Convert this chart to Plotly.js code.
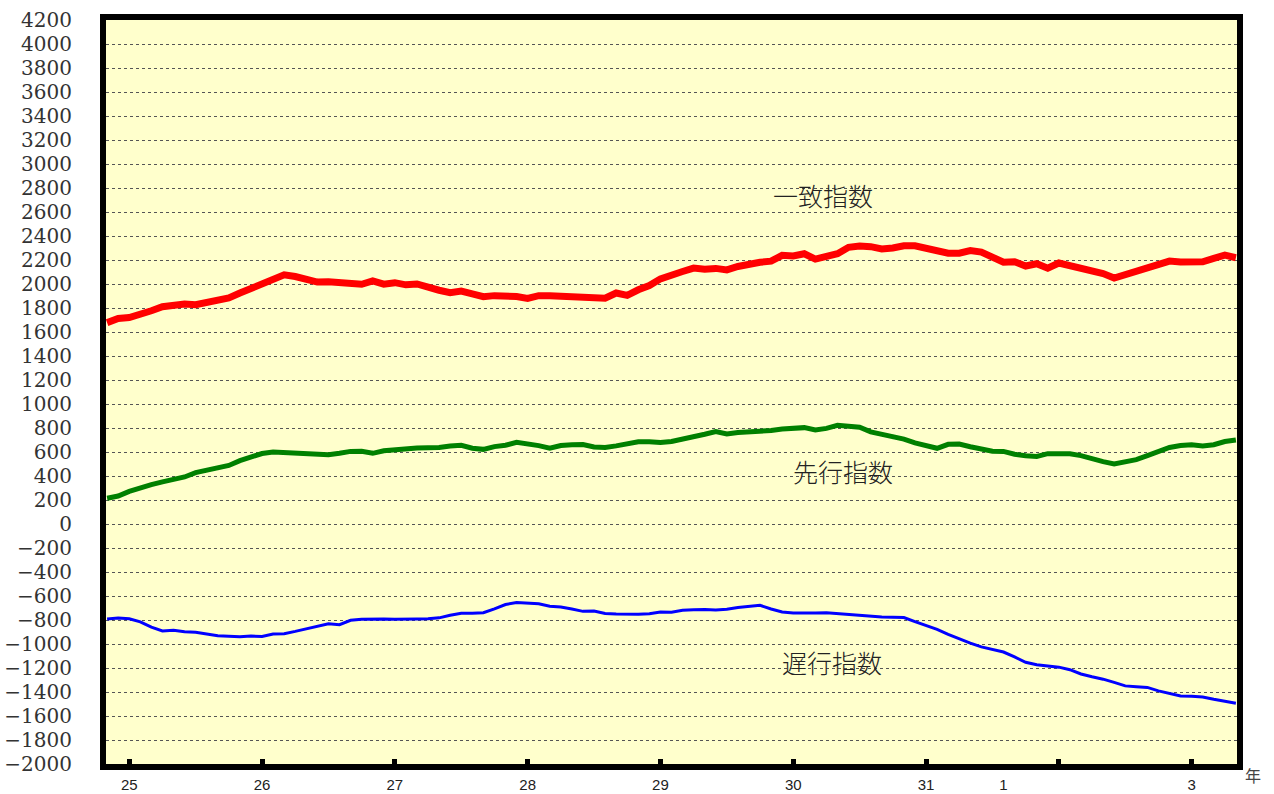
<!DOCTYPE html>
<html>
<head>
<meta charset="utf-8">
<script src="https://cdn.plot.ly/plotly-3.0.1.min.js"></script>
<style>html,body{margin:0;padding:0;background:#fff;}#chart{width:1274px;height:794px;}</style>
</head>
<body>
<div id="chart"></div>
<script>
// monthly index (0 = first month shown)
const coincident = [1678,1712,1720,1742,1777,1810,1824,1833,1828,1850,
 1860,1884,1925,1963,1990,2028,2076,2062,2040,2016,
 2018,2014,2008,1998,2025,1999,2011,1993,2000,1970,
 1948,1928,1941,1918,1894,1903,1905,1895,1880,1903,
 1903,1900,1897,1894,1877,1882,1925,1905,1952,1987,
 2043,2066,2104,2133,2124,2130,2117,2146,2170,2181,
 2190,2239,2233,2252,2207,2230,2252,2306,2317,2311,
 2292,2300,2318,2319,2297,2272,2256,2257,2278,2266,
 2218,2181,2185,2150,2169,2132,2175,2153,2145,2111,
 2087,2050,2078,2112,2128,2170,2191,2183,2178,2185,
 2214,2240,2219];
const leading = [215,233,272,302,328,351,375,392,428,450,
 469,488,528,556,587,600,596,594,585,580,
 578,589,605,606,589,610,621,628,633,635,
 637,650,656,631,622,645,656,680,669,653,
 631,654,661,663,642,638,651,670,686,686,
 679,688,706,725,748,771,750,762,766,769,
 779,791,800,803,783,797,822,819,806,768,
 748,722,707,676,651,631,664,666,644,623,
 606,605,581,569,563,586,588,586,570,542,
 520,501,519,536,569,600,638,654,661,651,
 661,687,700];
const lagging = [-792,-783,-790,-815,-860,-892,-886,-898,-903,-918,
 -931,-935,-939,-934,-938,-917,-914,-895,-874,-852,
 -831,-839,-802,-794,-790,-791,-794,-790,-792,-790,
 -782,-761,-743,-744,-739,-707,-671,-655,-658,-664,
 -685,-692,-709,-728,-726,-746,-751,-755,-753,-748,
 -733,-735,-718,-714,-712,-717,-711,-696,-686,-678,
 -708,-733,-741,-744,-741,-740,-748,-755,-762,-768,
 -774,-778,-780,-814,-847,-878,-920,-958,-993,-1024,
 -1046,-1067,-1108,-1152,-1173,-1186,-1193,-1214,-1250,-1273,
 -1293,-1320,-1349,-1356,-1362,-1391,-1413,-1433,-1436,-1441,
 -1461,-1478,-1494];
const months = coincident.map((_, i) => i);

const yearTickMonths = [2,14,26,38,50,62,74,86,98];
const yearLabelMonths = [2,14,26,38,50,62,74,81,98];
const yearLabels = ['25','26','27','28','29','30','31','1','3'];

const seriesNames = ['一致指数','先行指数','遅行指数'];
const labelMonths = [64.7,66.5,65.5];
const labelValues = [2742,442,-1150];

const traces = [
  {x: months, y: coincident, type:'scatter', mode:'lines', name:seriesNames[0],
   line:{color:'#ff0000', width:7}},
  {x: months, y: leading, type:'scatter', mode:'lines', name:seriesNames[1],
   line:{color:'#008000', width:5}},
  {x: months, y: lagging, type:'scatter', mode:'lines', name:seriesNames[2],
   line:{color:'#0000ff', width:3}},
  {x: [yearLabelMonths[0]], y:[null], xaxis:'x2', type:'scatter', mode:'lines', showlegend:false, hoverinfo:'skip'}
];

const annotations = seriesNames.map((t,i)=>({
  text:t, x:labelMonths[i], y:labelValues[i], xref:'x', yref:'y', showarrow:false,
  font:{family:'Noto Sans CJK JP', size:25, color:'#222', weight:300}
}));
annotations.push({text:'年', xref:'paper', yref:'paper', x:1.014, y:-0.015,
  xanchor:'center', yanchor:'middle', showarrow:false,
  font:{family:'Noto Sans CJK JP', size:16, color:'#444'}});

const layout = {
  width:1274, height:794,
  margin:{l:106, r:37, t:20, b:30},
  paper_bgcolor:'#ffffff', plot_bgcolor:'#ffffcc',
  showlegend:false,
  xaxis:{range:[-0.1,102.1], tickvals:yearTickMonths, showticklabels:false,
    ticks:'inside', ticklen:5, tickwidth:5, tickcolor:'#000',
    showgrid:false, zeroline:false,
    showline:true, linecolor:'#000', linewidth:6, mirror:true},
  xaxis2:{overlaying:'x', side:'bottom', anchor:'y', range:[-0.1,102.1],
    tickvals:yearLabelMonths, ticktext:yearLabels, ticks:'', showgrid:false,
    zeroline:false, showline:false, ticklabelstandoff:10,
    tickfont:{family:'Liberation Sans', size:15, color:'#222'}},
  yaxis:{range:[-2000,4200], dtick:200, tick0:0, showgrid:true,
    gridcolor:'#555', gridwidth:1, griddash:'dot', zeroline:false,
    showline:true, linecolor:'#000', linewidth:6, mirror:true,
    ticks:'', ticklabelstandoff:24,
    tickfont:{family:'DejaVu Serif', size:20, color:'#333'}},
  annotations: annotations
};

Plotly.newPlot('chart', traces, layout, {displayModeBar:false, staticPlot:true});
</script>
</body>
</html>
